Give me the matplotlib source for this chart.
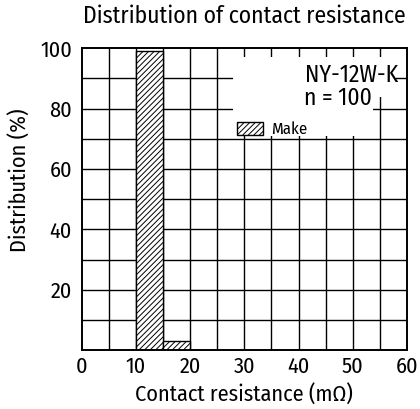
import matplotlib
matplotlib.use("Agg")
import matplotlib.pyplot as plt
from matplotlib.patches import Rectangle

plt.rcParams['font.family'] = ['Fira Sans Condensed', 'DejaVu Sans']
plt.rcParams['hatch.linewidth'] = 0.7

# histogram data (contact resistance bins, mOhm)
bin_left = [10, 15]
bin_width = 5
distribution = [99, 3]

x_ticks = [0, 10, 20, 30, 40, 50, 60]
y_ticks = [20, 40, 60, 80, 100]

fig = plt.figure(figsize=(4.2, 4.09), dpi=100)
ax = fig.add_axes([0.1945, 0.144, 0.7745, 0.738])

ax.set_xlim(0, 60)
ax.set_ylim(0, 100)

# grid every 5 on x, every 10 on y
for gx in range(5, 60, 5):
    ax.axvline(gx, color='black', lw=1.0, zorder=1)
for gy in range(10, 100, 10):
    ax.axhline(gy, color='black', lw=1.0, zorder=1)

ax.bar(bin_left, distribution, width=bin_width, align='edge',
       facecolor='white', edgecolor='black', hatch='//////', lw=1.0,
       zorder=3, label='Make')

# white area behind the annotation
ax.add_patch(Rectangle((28, 84), 30, 13, facecolor='white', edgecolor='none', zorder=2))
ax.add_patch(Rectangle((28, 71), 25.8, 14, facecolor='white', edgecolor='none', zorder=2))

ax.text(58.3, 91, 'NY-12W-K', ha='right', va='center', fontsize=17, zorder=4)
ax.text(53.6, 83.3, 'n = 100', ha='right', va='center', fontsize=17, zorder=4)

ax.legend(loc='upper left', bbox_to_anchor=(0.477, 0.758), frameon=False,
          fontsize=12, handlelength=1.55, handleheight=0.85, handletextpad=0.5,
          borderpad=0.0, borderaxespad=0.0)

ax.set_xticks(x_ticks)
ax.set_yticks(y_ticks)
ax.tick_params(length=0, labelsize=16)
ax.tick_params(axis='y', pad=7)
ax.tick_params(axis='x', pad=4)
for s in ax.spines.values():
    s.set_linewidth(1.4)
    s.set_zorder(5)

ax.set_xlabel('Contact resistance (mΩ)', fontsize=16, labelpad=5)
ax.set_ylabel('Distribution (%)', fontsize=16)
ax.yaxis.set_label_coords(-0.155, 0.563)
ax.set_title('Distribution of contact resistance', fontsize=17, pad=18)

fig.savefig('out.png', dpi=100)
